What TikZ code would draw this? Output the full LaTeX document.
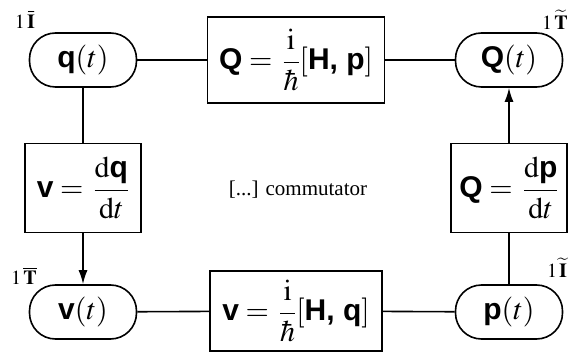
\documentclass[tikz,border=0pt]{standalone}
\usepackage{amsmath}
\usepackage{mathptmx}
\usepackage{fontspec}
\setmainfont{Liberation Serif}
\setsansfont{Liberation Sans}
\usepackage{tikz}
\usetikzlibrary{arrows.meta}
\newcommand{\vb}[1]{\textsf{\bfseries #1}}

\begin{document}
\begin{tikzpicture}[x=1pt,y=1pt,
  state/.style={draw,line width=1.6pt,rectangle,rounded corners=26pt,
    minimum width=107pt,minimum height=54pt,font=\fontsize{30}{36}\selectfont},
  eqbox/.style={draw,line width=1.6pt,rectangle,inner sep=1pt,
    font=\fontsize{30}{36}\selectfont},
  tag/.style={inner sep=0pt,font=\fontsize{20}{24}\selectfont},
  link/.style={line width=1.6pt},
  flow/.style={line width=1.6pt,-{Latex[length=14pt,width=9pt]}}]
\useasboundingbox (0,0) rectangle (575,351);

%% states
\node[state] (q) at (83,291) {$\vb{q}(t)$};
\node[tag] (qtag) at (25,331) {$1\,\bar{\mathbf{I}}$};
\node[state] (Q) at (509,291) {$\vb{Q}(t)$};
\node[tag] (Qtag) at (555,331) {$1\,\widetilde{\mathbf{T}}$};
\node[state] (v) at (83,39) {$\vb{v}(t)$};
\node[tag] (vtag) at (24,75) {$1\,\overline{\mathbf{T}}$};
\node[state] (p) at (509,39) {$\vb{p}(t)$};
\node[tag] (ptag) at (557,83) {$1\,\widetilde{\mathbf{I}}$};

%% equations
\node[eqbox,minimum width=177pt,minimum height=86pt] (Qeq) at (296,291)
  {$\vb{Q} = \,\dfrac{\mathrm{i}}{\hbar}[\vb{H, p}]$};
\node[eqbox,minimum width=172pt,minimum height=80pt] (veq) at (296,40)
  {$\vb{v} = \,\dfrac{\mathrm{i}}{\hbar}[\vb{H, q}]$};
\node[eqbox,minimum width=116pt,minimum height=89pt] (vdef) at (83,163)
  {$\vb{v} = \,\dfrac{\mathrm{d}\vb{q}}{\mathrm{d}t}$};
\node[eqbox,minimum width=116pt,minimum height=89pt] (Qdef) at (509,163)
  {$\vb{Q} = \,\dfrac{\mathrm{d}\vb{p}}{\mathrm{d}t}$};
\node[inner sep=0pt,font=\fontsize{21}{25}\selectfont] (comm) at (298,161)
  {[...] commutator};

%%% edges
\draw[link] (q) -- (Qeq) -- (Q);
\draw[link] (v) -- (veq) -- (p);
\draw[link] (q) -- (vdef);
\draw[flow] (vdef) -- (v);
\draw[link] (p) -- (Qdef);
\draw[flow] (Qdef) -- (Q);

\end{tikzpicture}
\end{document}
